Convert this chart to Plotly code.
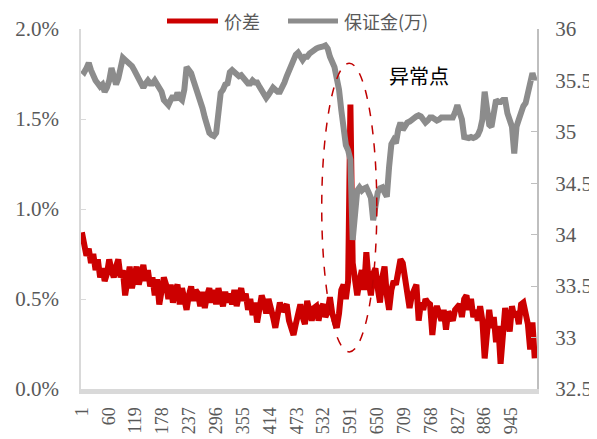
import plotly.graph_objects as go

# x index (every 5th observation, 1..996)
idx = list(range(1, 1001, 5))
tick_vals = [1, 60, 119, 178, 237, 296, 355, 414, 473, 532, 591, 650, 709, 768, 827, 886, 945]
tick_text = [str(v) for v in tick_vals]
right_vals = [32.5, 33, 33.5, 34, 34.5, 35, 35.5, 36]
right_text = ["32.5", "33", "33.5", "34", "34.5", "35", "35.5", "36"]
series_names = ["价差", "保证金(万)"]

# 价差 (%)
spread_pct = [
    0.87, 0.80, 0.74, 0.78, 0.70, 0.75, 0.66, 0.72, 0.62, 0.67,
    0.60, 0.64, 0.72, 0.66, 0.62, 0.68, 0.72, 0.62, 0.66, 0.52,
    0.60, 0.68, 0.56, 0.64, 0.68, 0.58, 0.65, 0.69, 0.60, 0.66,
    0.57, 0.62, 0.52, 0.61, 0.47, 0.55, 0.62, 0.58, 0.50, 0.58,
    0.48, 0.55, 0.58, 0.47, 0.56, 0.50, 0.44, 0.52, 0.57, 0.49,
    0.55, 0.53, 0.46, 0.54, 0.45, 0.52, 0.56, 0.48, 0.55, 0.47,
    0.56, 0.50, 0.46, 0.54, 0.48, 0.53, 0.47, 0.55, 0.46, 0.52,
    0.56, 0.49, 0.53, 0.44, 0.50, 0.41, 0.48, 0.37, 0.45, 0.52,
    0.48, 0.42, 0.50, 0.46, 0.40, 0.34, 0.42, 0.48, 0.43, 0.46,
    0.47, 0.38, 0.33, 0.30, 0.36, 0.44, 0.47, 0.40, 0.36, 0.49,
    0.42, 0.38, 0.45, 0.46, 0.38, 0.45, 0.47, 0.40, 0.43, 0.51,
    0.42, 0.36, 0.34, 0.42, 0.55, 0.58, 0.50, 0.60, 1.58, 0.70,
    0.62, 0.52, 0.60, 0.66, 0.55, 0.76, 0.60, 0.52, 0.64, 0.67,
    0.56, 0.48, 0.62, 0.68, 0.52, 0.44, 0.55, 0.60, 0.58, 0.66,
    0.72, 0.70, 0.63, 0.55, 0.45, 0.52, 0.56, 0.58, 0.38, 0.48,
    0.44, 0.50, 0.48, 0.47, 0.30, 0.42, 0.46, 0.42, 0.38, 0.44,
    0.33, 0.43, 0.40, 0.38, 0.44, 0.45, 0.47, 0.40, 0.50, 0.52,
    0.44, 0.50, 0.40, 0.44, 0.38, 0.46, 0.38, 0.17, 0.30, 0.44,
    0.34, 0.40, 0.26, 0.35, 0.14, 0.30, 0.45, 0.38, 0.32, 0.46,
    0.40, 0.43, 0.36, 0.47, 0.48, 0.42, 0.36, 0.22, 0.37, 0.17,
]

# 保证金(万)
margin = [
    35.60, 35.58, 35.62, 35.67, 35.60, 35.54, 35.50, 35.47, 35.44, 35.46,
    35.39, 35.43, 35.50, 35.62, 35.55, 35.46, 35.52, 35.65, 35.72, 35.70,
    35.68, 35.67, 35.64, 35.60, 35.55, 35.50, 35.45, 35.43, 35.47, 35.50,
    35.47, 35.47, 35.50, 35.46, 35.44, 35.39, 35.31, 35.28, 35.26, 35.31,
    35.35, 35.31, 35.38, 35.33, 35.31, 35.41, 35.63, 35.60, 35.57, 35.50,
    35.44, 35.36, 35.31, 35.23, 35.14, 35.07, 34.99, 34.97, 34.96, 34.99,
    35.21, 35.38, 35.41, 35.46, 35.47, 35.58, 35.60, 35.58, 35.55, 35.54,
    35.55, 35.52, 35.49, 35.47, 35.47, 35.50, 35.48, 35.48, 35.44, 35.41,
    35.38, 35.33, 35.36, 35.41, 35.43, 35.41, 35.39, 35.39, 35.43, 35.48,
    35.54, 35.60, 35.67, 35.72, 35.75, 35.77, 35.73, 35.70, 35.73, 35.73,
    35.76, 35.78, 35.80, 35.81, 35.82, 35.82, 35.83, 35.84, 35.81, 35.73,
    35.68, 35.63, 35.52, 35.41, 35.21, 34.97, 34.87, 34.82, 34.73, 33.95,
    34.27, 34.43, 34.46, 34.43, 34.45, 34.46, 34.41, 34.36, 34.14, 34.34,
    34.41, 34.45, 34.46, 34.41, 34.37, 34.66, 34.88, 34.92, 34.89, 35.02,
    35.09, 35.02, 35.07, 35.09, 35.10, 35.12, 35.14, 35.15, 35.16, 35.15,
    35.12, 35.09, 35.11, 35.14, 35.14, 35.12, 35.11, 35.12, 35.14, 35.14,
    35.14, 35.14, 35.14, 35.14, 35.19, 35.26, 35.19, 35.12, 34.95, 34.94,
    34.94, 34.95, 34.94, 34.95, 34.97, 35.02, 35.12, 35.39, 35.21, 35.07,
    35.05, 35.21, 35.31, 35.29, 35.29, 35.31, 35.31, 35.18, 35.12, 35.05,
    34.79, 35.05, 35.12, 35.21, 35.25, 35.28, 35.36, 35.47, 35.57, 35.50,
]

RED = "#CC0000"
GREY = "#8C8C8C"
FONT = "Liberation Serif, Noto Sans CJK SC, serif"
CJK = "Noto Sans CJK SC, sans-serif"
TXT = "#595959"

W, H = 597, 439
# page body has an 8px margin; plot area in figure coords
L, T, PW, PH = 73, 21, 456, 360
R = W - L - PW
B = H - T - PH


def px(fx):
    return (fx - L) / PW


def py(fy):
    return (T + PH - fy) / PH


fig = go.Figure()
fig.add_trace(go.Scatter(
    x=idx, y=margin, name=series_names[1], yaxis="y2", mode="lines",
    line=dict(color=GREY, width=6),
))
fig.add_trace(go.Scatter(
    x=idx, y=[v / 100 for v in spread_pct], name=series_names[0], mode="lines",
    line=dict(color=RED, width=6),
))

# dashed ellipse around the anomaly
fig.add_shape(type="circle", xref="x", yref="y",
              x0=528, x1=649, y0=0.00206, y1=0.0181,
              line=dict(color="#C00000", width=1.5, dash="dash"))

fig.add_annotation(x=742, y=0.01744, xref="x", yref="y", text="异常点",
                   showarrow=False, font=dict(family=CJK, size=20, color="#000000"))

# legend (drawn manually to match long line keys)
legend_y = py(13)
for (x0, x1, col, name) in [(159, 210, RED, series_names[0]), (280, 330, GREY, series_names[1])]:
    fig.add_shape(type="line", xref="paper", yref="paper", x0=px(x0), x1=px(x1),
                  y0=legend_y, y1=legend_y, line=dict(color=col, width=5))
    fig.add_annotation(xref="paper", yref="paper", x=px(x1 + 4), y=legend_y, text=name,
                       xanchor="left", yanchor="middle", showarrow=False,
                       font=dict(family=CJK, size=18, color=TXT))

fig.update_layout(
    width=W, height=H,
    margin=dict(l=L, r=R, t=T, b=B, autoexpand=False),
    paper_bgcolor="white", plot_bgcolor="white",
    font=dict(family=FONT, size=21, color=TXT),
    showlegend=False,
    xaxis=dict(range=[-1, 1001], tickmode="array", tickvals=tick_vals, ticktext=tick_text,
               tickangle=-90, showgrid=False, zeroline=False, showline=True,
               linecolor="#D9D9D9", linewidth=5, ticks="", automargin=False,
               ticklabelstandoff=6,
               tickfont=dict(family=FONT, size=18, color=TXT)),
    yaxis=dict(range=[0, 0.02], dtick=0.005, tickformat=".1%",
               showgrid=False, zeroline=False, automargin=False,
               showline=True, linecolor="#D9D9D9", linewidth=1.5, ticks="inside", ticklen=5,
               tickcolor="#D9D9D9", ticklabelstandoff=16,
               tickfont=dict(family=FONT, size=21, color=TXT)),
    yaxis2=dict(range=[32.5, 36], tickmode="array", tickvals=right_vals, ticktext=right_text,
                overlaying="y", side="right", showgrid=False, automargin=False,
                zeroline=False, showline=True, linecolor="#BFBFBF", linewidth=2,
                ticks="inside", ticklen=6, tickcolor="#BFBFBF", ticklabelstandoff=12,
                tickfont=dict(family=FONT, size=21, color=TXT)),
)

fig.write_html("out.html")
